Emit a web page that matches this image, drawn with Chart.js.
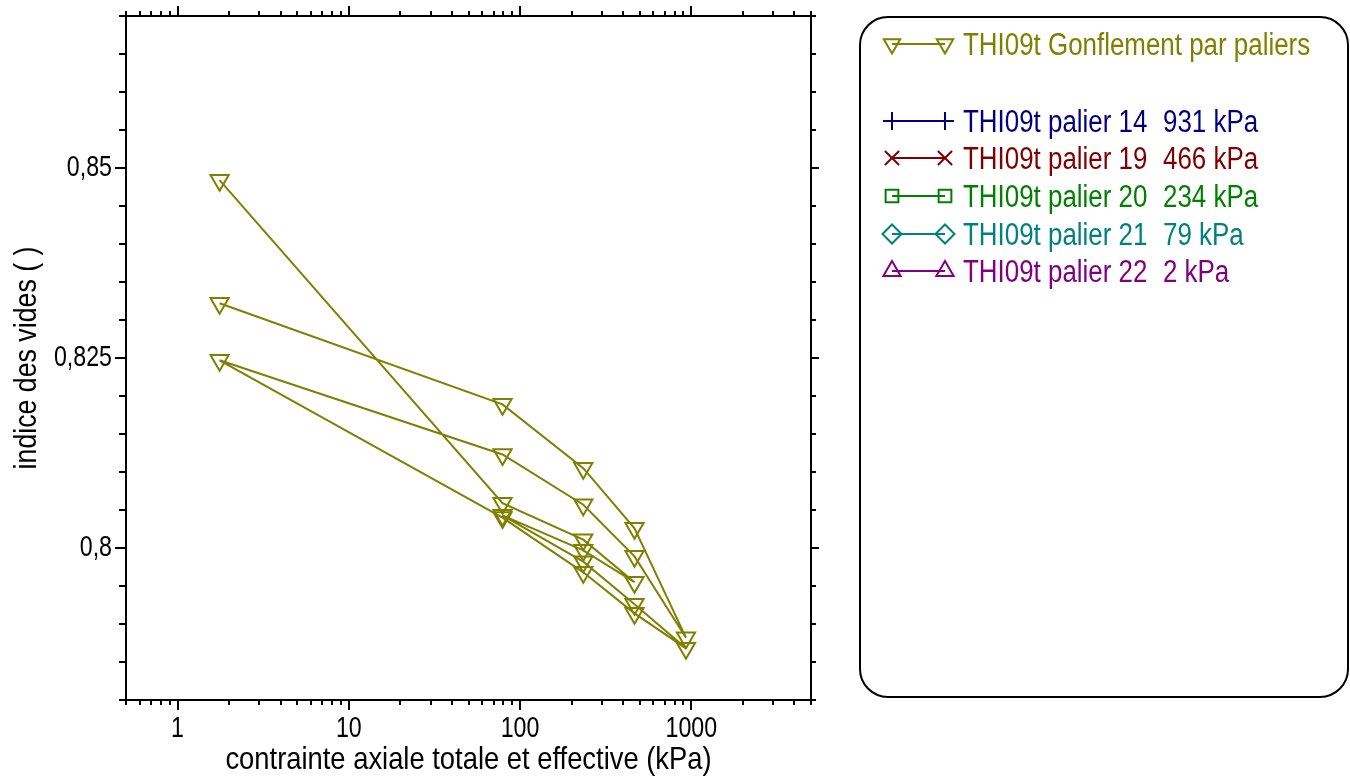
<!DOCTYPE html>
<html><head><meta charset="utf-8">
<script src="https://cdn.jsdelivr.net/npm/chart.js@4.4.1/dist/chart.umd.min.js"></script>
<style>html,body{margin:0;padding:0;background:#fff;}canvas{display:block;}</style>
</head><body>
<canvas id="c" width="1350" height="778"></canvas>
<script>
// ---- data ----
const stressKPa = [1.76, 79, 234, 466, 234, 79, 234, 466, 931, 466, 234, 79, 1.76, 79, 234, 466, 931, 466, 234, 79, 1.76];
const voidRatio = [0.8484, 0.8059, 0.8011, 0.7955, 0.7997, 0.8043, 0.7982, 0.7926, 0.7868, 0.7914, 0.7968, 0.8040, 0.8247, 0.8123, 0.8057, 0.7989, 0.7882, 0.8026, 0.8105, 0.8189, 0.8322];
const seriesNames = ['THI09t Gonflement par paliers', 'THI09t palier 14', 'THI09t palier 19', 'THI09t palier 20', 'THI09t palier 21', 'THI09t palier 22'];
const seriesStressLabels = ['', '931 kPa', '466 kPa', '234 kPa', '79 kPa', '2 kPa'];
const seriesColors = ['#808000', '#000080', '#800000', '#008000', '#008080', '#800080'];
const seriesMarkers = ['triangle', 'cross', 'crossRot', 'rect', 'rectRot', 'triangle'];
const seriesMarkerRotation = [180, 0, 0, 0, 0, 0];
const xTickValues = [1, 10, 100, 1000];
const yTickValues = [0.8, 0.825, 0.85];
const xTitle = 'contrainte axiale totale et effective (kPa)';
const yTitle = 'indice des vides ( )';

const FONT = '"Liberation Sans", Arial, sans-serif';
const NARROW = 0.83;

const datasets = seriesNames.map((name, i) => ({
  label: name,
  data: i === 0 ? stressKPa.map((x, k) => ({x: x, y: voidRatio[k]})) : [],
  borderColor: seriesColors[i],
  backgroundColor: 'rgba(0,0,0,0)',
  borderWidth: 2,
  showLine: true,
  tension: 0,
  pointStyle: seriesMarkers[i],
  pointRotation: seriesMarkerRotation[i],
  pointRadius: 10.5,
  pointBorderWidth: 2,
  pointBorderColor: seriesColors[i],
  pointBackgroundColor: 'rgba(0,0,0,0)'
}));

const legendRadius = [9.5, 9, 10, 9, 9.5, 10];

function narrowText(ctx, text, x, y, opts) {
  ctx.save();
  ctx.translate(x, y);
  if (opts.rotate) ctx.rotate(opts.rotate);
  ctx.scale(opts.sx || NARROW, 1);
  ctx.font = opts.size + 'px ' + FONT;
  ctx.fillStyle = opts.color || '#000';
  ctx.textAlign = opts.align || 'left';
  ctx.textBaseline = opts.baseline || 'alphabetic';
  ctx.fillText(text, 0, 0);
  ctx.restore();
}

const decor = {
  id: 'decor',
  afterDatasetsDraw(chart) {
    const ctx = chart.ctx, ca = chart.chartArea;
    const xs = chart.scales.x, ys = chart.scales.y;
    ctx.save();
    ctx.strokeStyle = '#000';
    ctx.lineWidth = 2;
    ctx.strokeRect(ca.left, ca.top, ca.right - ca.left, ca.bottom - ca.top);
    ctx.beginPath();
    for (let d = -1; d <= 3; d++) {
      for (let m = 1; m <= 9; m++) {
        const v = m * Math.pow(10, d);
        if (v < xs.min * 0.999 || v > xs.max * 1.001) continue;
        const px = Math.round(xs.getPixelForValue(v));
        const len = m === 1 ? 10 : 5;
        ctx.moveTo(px, ca.bottom); ctx.lineTo(px, ca.bottom + len);
        ctx.moveTo(px, ca.top); ctx.lineTo(px, ca.top - len);
      }
    }
    for (let k = 0; k <= 18; k++) {
      const v = ys.min + k * 0.005;
      const py = Math.round(ys.getPixelForValue(v));
      const major = (k - 4) % 5 === 0;
      ctx.moveTo(ca.left, py); ctx.lineTo(ca.left - (major ? 11 : 7), py);
      ctx.moveTo(ca.right, py); ctx.lineTo(ca.right + (major ? 8 : 5), py);
    }
    ctx.stroke();
    ctx.restore();

    // tick labels & titles (condensed text)
    xs.ticks.forEach(t => {
      narrowText(ctx, String(t.value), xs.getPixelForValue(t.value), ca.bottom + 37, {size: 29, align: 'center', sx: 0.8});
    });
    ys.ticks.forEach(t => {
      narrowText(ctx, String(t.value).replace('.', ','), ca.left - 14, ys.getPixelForValue(t.value), {size: 29, align: 'right', baseline: 'middle', sx: 0.8});
    });
    narrowText(ctx, xTitle, (ca.left + ca.right) / 2, 769, {size: 32, align: 'center', sx: 0.855});
    narrowText(ctx, yTitle, 27, (ca.top + ca.bottom) / 2, {size: 32, align: 'center', baseline: 'middle', rotate: -Math.PI / 2, sx: 0.835});
  },
  afterDraw(chart) {
    const ctx = chart.ctx;
    ctx.save();
    ctx.strokeStyle = '#000';
    ctx.lineWidth = 2;
    ctx.beginPath();
    ctx.roundRect(860, 17, 488, 680, 28);
    ctx.stroke();
    const rows = [44, 121, 158, 196, 234, 271];
    const x1 = 892, x2 = 945;
    chart.data.datasets.forEach((ds, i) => {
      const y = rows[i];
      ctx.strokeStyle = ds.borderColor;
      ctx.fillStyle = 'rgba(0,0,0,0)';
      ctx.lineWidth = 2;
      ctx.beginPath();
      ctx.moveTo(x1, y); ctx.lineTo(x2, y);
      ctx.stroke();
      const opts = {pointStyle: ds.pointStyle, radius: legendRadius[i], rotation: ds.pointRotation, borderWidth: 2};
      Chart.helpers.drawPoint(ctx, opts, x1, y);
      Chart.helpers.drawPoint(ctx, opts, x2, y);
      narrowText(ctx, ds.label, 963, y + 11, {size: 31, color: ds.borderColor, sx: 0.836});
      if (seriesStressLabels[i]) narrowText(ctx, seriesStressLabels[i], 1163, y + 11, {size: 31, color: ds.borderColor, sx: 0.836});
    });
    ctx.restore();
  }
};

new Chart(document.getElementById('c'), {
  type: 'scatter',
  data: {datasets: datasets},
  options: {
    responsive: false,
    animation: false,
    events: [],
    layout: {padding: {top: 16, right: 539, left: 0, bottom: 0}},
    plugins: {legend: {display: false}, tooltip: {enabled: false}},
    scales: {
      x: {
        type: 'logarithmic', position: 'bottom', min: 0.5, max: 5000,
        grid: {display: false, drawTicks: false},
        border: {display: false},
        afterBuildTicks: s => { s.ticks = xTickValues.map(v => ({value: v})); },
        afterFit: s => { s.height = 78; s.paddingLeft = 0; s.paddingRight = 0; },
        ticks: {display: false},
        title: {display: false}
      },
      y: {
        type: 'linear', position: 'left', min: 0.78, max: 0.87,
        grid: {display: false, drawTicks: false},
        border: {display: false},
        afterBuildTicks: s => { s.ticks = yTickValues.map(v => ({value: v})); },
        afterFit: s => { s.width = 126; s.paddingTop = 0; s.paddingBottom = 0; },
        ticks: {display: false},
        title: {display: false}
      }
    }
  },
  plugins: [decor]
});
</script>
</body></html>
